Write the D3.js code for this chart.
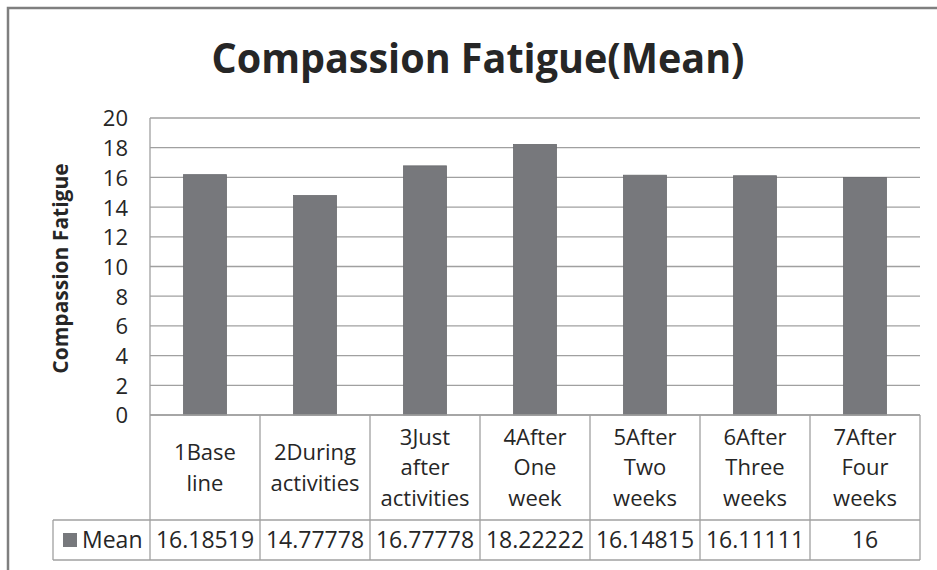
<!DOCTYPE html>
<html><head><meta charset="utf-8">
<script src="https://cdn.jsdelivr.net/npm/d3@7"></script>
<style>body{margin:0;background:#fff}svg{display:block}text{font-family:"Open Sans","Noto Sans",sans-serif;fill:#262626}</style>
</head><body><svg id="c" width="937" height="570"></svg>
<script>
const categories = [["1Base","line"],["2During","activities"],["3Just","after","activities"],["4After","One","week"],["5After","Two","weeks"],["6After","Three","weeks"],["7After","Four","weeks"]];
const values = [16.18519,14.77778,16.77778,18.22222,16.14815,16.11111,16];
const valueLabels = ["16.18519","14.77778","16.77778","18.22222","16.14815","16.11111","16"];
const yTicks = [0,2,4,6,8,10,12,14,16,18,20];
const seriesName = "Mean";

const svg = d3.select("#c");
const L=150,R=920,T=118,B=415, rowMid=520, rowBot=560, legL=53;
const x = d3.scaleBand().domain(d3.range(categories.length)).range([L,R]).paddingInner(0).paddingOuter(0);
const y = d3.scaleLinear().domain([0,20]).range([B,T]);
const barW = 43;
const grid="#a0a0a0";

// outer frame (top and left edges visible)
svg.append("path").attr("d","M8,570 L8,8 L937,8").attr("fill","none").attr("stroke","#7f7f7f").attr("stroke-width",2.5);

// title
svg.append("text").attr("x",478).attr("y",73).attr("text-anchor","middle")
  .attr("textLength",533).attr("lengthAdjust","spacingAndGlyphs")
  .style("font-size","41px").style("font-weight","bold")
  .text("Compassion Fatigue(Mean)");

// gridlines
svg.append("g").selectAll("line").data(yTicks).join("line")
  .attr("x1",L).attr("x2",R).attr("y1",d=>y(d)).attr("y2",d=>y(d))
  .attr("stroke",grid).attr("stroke-width",1.3);
svg.append("line").attr("x1",L).attr("x2",L).attr("y1",T).attr("y2",B).attr("stroke",grid).attr("stroke-width",1.3);

// y axis labels
const yAxis = d3.axisLeft(y).tickValues(yTicks).tickSize(0).tickPadding(0);
const ga = svg.append("g").attr("transform",`translate(${L-22},0)`).call(yAxis);
ga.select(".domain").remove();
ga.selectAll("text").style("font-size","22px").style("font-family","'Open Sans',sans-serif").attr("fill","#262626").attr("dy","0.36em");

// y title
svg.append("text").attr("transform",`translate(60,${(T+B)/2+2}) rotate(-90)`).attr("text-anchor","middle")
  .attr("dy","0.36em").style("font-size","21px").style("font-weight","bold").text("Compassion Fatigue");

// bars
svg.append("g").selectAll("rect").data(values).join("rect")
  .attr("x",(d,i)=>x(i)+x.bandwidth()/2-barW/2).attr("width",barW)
  .attr("y",d=>y(d)).attr("height",d=>B-y(d))
  .attr("fill","#77787c").attr("stroke","#6a6b6f").attr("stroke-width",0.8);

// data table
const tg = svg.append("g");
const tline=(x1,y1,x2,y2)=>tg.append("line").attr("x1",x1).attr("y1",y1).attr("x2",x2).attr("y2",y2).attr("stroke",grid).attr("stroke-width",1.3);
tline(L,B,R,B); tline(legL,rowMid,R,rowMid); tline(legL,rowBot,R,rowBot);
tline(legL,rowMid,legL,rowBot);
d3.range(categories.length+1).forEach(i=>{ const xx = i<categories.length? x(i): R; tline(xx,B,xx,rowBot); });

const lh=30.5;
categories.forEach((lines,i)=>{
  const cx=x(i)+x.bandwidth()/2, cy=(B+rowMid)/2;
  const t=tg.append("text").attr("text-anchor","middle").style("font-size","22px");
  lines.forEach((s,j)=>t.append("tspan").attr("x",cx).attr("y",cy+(j-(lines.length-1)/2)*lh).attr("dy","0.36em").text(s));
});
valueLabels.forEach((s,i)=>{
  tg.append("text").attr("x",x(i)+x.bandwidth()/2).attr("y",(rowMid+rowBot)/2).attr("dy","0.36em")
    .attr("text-anchor","middle").style("font-size","23px").text(s);
});
tg.append("rect").attr("x",63).attr("y",533).attr("width",14).attr("height",14).attr("fill","#77787c");
tg.append("text").attr("x",82).attr("y",(rowMid+rowBot)/2).attr("dy","0.36em").style("font-size","23px").text(seriesName);
</script></body></html>
